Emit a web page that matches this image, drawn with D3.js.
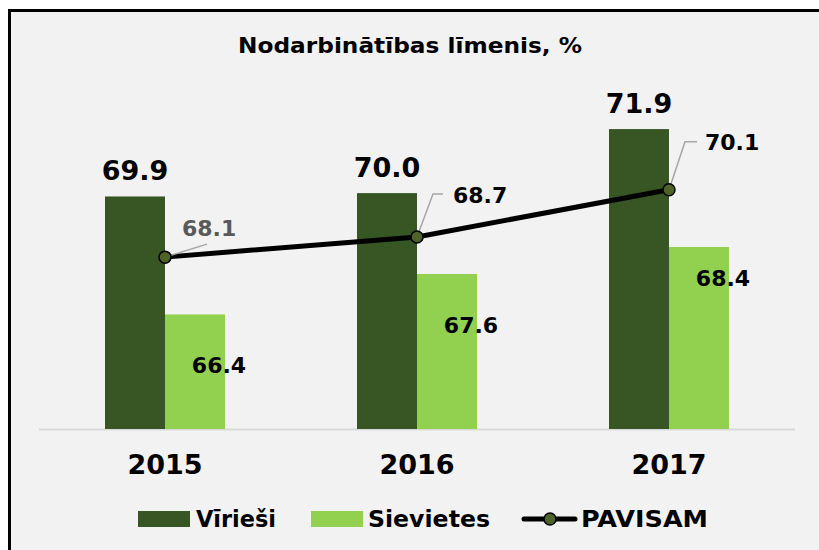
<!DOCTYPE html>
<html>
<head>
<meta charset="utf-8">
<script src="https://cdn.jsdelivr.net/npm/d3@7"></script>
<style>
  body { margin: 0; background: #fff; }
  text { font-family: "DejaVu Sans", Verdana, sans-serif; font-weight: bold; }
</style>
</head>
<body>
<svg width="819" height="550"></svg>
<script>
var years = ['2015', '2016', '2017'];
var men = [69.9, 70.0, 71.9];
var women = [66.4, 67.6, 68.4];
var total = [68.1, 68.7, 70.1];
var seriesNames = ['Vīrieši', 'Sievietes', 'PAVISAM'];
var title = 'Nodarbinātības līmenis, %';

var colors = { men: '#375623', women: '#92d050', marker: '#4f6228' };

// label nudges (manual placement, like the original)
var womenLabelDy = [51, 51, 31];
var totalLabelNudge = [
  { elbow: null, end: [42, -13], text: [17, -29], color: '#595959' },
  { elbow: [16, -43], end: [26, -43], text: [36, -42], color: '#000' },
  { elbow: [16, -48], end: [28, -48], text: [36, -47], color: '#000' }
];

var svg = d3.select('svg');

svg.append('rect')
  .attr('x', 9.5).attr('y', 10.5)
  .attr('width', 830).attr('height', 560)
  .attr('fill', '#f2f2f2')
  .attr('stroke', '#000')
  .attr('stroke-width', 3);

svg.append('text')
  .attr('x', 410).attr('y', 45)
  .attr('dy', '0.35em')
  .attr('text-anchor', 'middle')
  .attr('font-size', 22)
  .attr('textLength', 344)
  .attr('lengthAdjust', 'spacingAndGlyphs')
  .text(title);

var x = d3.scaleBand().domain(years).range([39, 795]);
var inner = d3.scaleBand().domain(['men', 'women']).range([-60, 60]);
var y = d3.scaleLinear().domain([63, 73]).range([429, 92]);

function cx(d, i) { return x(years[i]) + x.bandwidth() / 2; }

// axis line
svg.append('line')
  .attr('x1', 39).attr('x2', 795)
  .attr('y1', 429.5).attr('y2', 429.5)
  .attr('stroke', '#d9d9d9')
  .attr('stroke-width', 2);

svg.selectAll('.bar-men')
  .data(men)
  .enter().append('rect')
  .attr('class', 'bar-men')
  .attr('x', function(d, i) { return cx(d, i) + inner('men'); })
  .attr('width', inner.bandwidth())
  .attr('y', function(d) { return y(d); })
  .attr('height', function(d) { return y(63) - y(d); })
  .attr('fill', colors.men);

svg.selectAll('.bar-women')
  .data(women)
  .enter().append('rect')
  .attr('class', 'bar-women')
  .attr('x', function(d, i) { return cx(d, i) + inner('women'); })
  .attr('width', inner.bandwidth())
  .attr('y', function(d) { return y(d); })
  .attr('height', function(d) { return y(63) - y(d); })
  .attr('fill', colors.women);

// men labels
svg.selectAll('.lab-men')
  .data(men)
  .enter().append('text')
  .attr('class', 'lab-men')
  .attr('x', function(d, i) { return cx(d, i) + inner('men') + inner.bandwidth() / 2; })
  .attr('y', function(d) { return y(d) - 26; })
  .attr('dy', '0.35em')
  .attr('text-anchor', 'middle')
  .attr('font-size', 27)
  .text(function(d) { return d.toFixed(1); });

// women labels
svg.selectAll('.lab-women')
  .data(women)
  .enter().append('text')
  .attr('class', 'lab-women')
  .attr('x', function(d, i) { return cx(d, i) + inner('women') + inner.bandwidth() / 2 + 24; })
  .attr('y', function(d, i) { return y(d) + womenLabelDy[i]; })
  .attr('dy', '0.35em')
  .attr('text-anchor', 'middle')
  .attr('font-size', 22)
  .text(function(d) { return d.toFixed(1); });

// total line
var line = d3.line()
  .x(function(d, i) { return cx(d, i); })
  .y(function(d) { return y(d); });

svg.append('path')
  .datum(total)
  .attr('d', line)
  .attr('fill', 'none')
  .attr('stroke', '#000')
  .attr('stroke-width', 5)
  .attr('stroke-linecap', 'round');

// leader lines
svg.selectAll('.leader')
  .data(total)
  .enter().append('polyline')
  .attr('class', 'leader')
  .attr('points', function(d, i) {
    var px = cx(d, i), py = y(d), n = totalLabelNudge[i];
    var pts = [[px, py]];
    if (n.elbow) pts.push([px + n.elbow[0], py + n.elbow[1]]);
    pts.push([px + n.end[0], py + n.end[1]]);
    return pts.map(function(p) { return p.join(','); }).join(' ');
  })
  .attr('fill', 'none')
  .attr('stroke', '#a6a6a6')
  .attr('stroke-width', 1.5);

svg.selectAll('.marker')
  .data(total)
  .enter().append('circle')
  .attr('class', 'marker')
  .attr('cx', function(d, i) { return cx(d, i); })
  .attr('cy', function(d) { return y(d); })
  .attr('r', 6)
  .attr('fill', colors.marker)
  .attr('stroke', '#000')
  .attr('stroke-width', 1.5);

svg.selectAll('.lab-total')
  .data(total)
  .enter().append('text')
  .attr('class', 'lab-total')
  .attr('x', function(d, i) { return cx(d, i) + totalLabelNudge[i].text[0]; })
  .attr('y', function(d, i) { return y(d) + totalLabelNudge[i].text[1]; })
  .attr('dy', '0.35em')
  .attr('font-size', 22)
  .attr('fill', function(d, i) { return totalLabelNudge[i].color; })
  .text(function(d) { return d.toFixed(1); });

// year labels
svg.selectAll('.year')
  .data(years)
  .enter().append('text')
  .attr('class', 'year')
  .attr('x', function(d) { return x(d) + x.bandwidth() / 2; })
  .attr('y', 465)
  .attr('dy', '0.35em')
  .attr('text-anchor', 'middle')
  .attr('font-size', 27)
  .text(function(d) { return d; });

// legend
var legendY = 519;
var lg = svg.append('g');
lg.append('rect').attr('x', 138).attr('y', legendY - 8).attr('width', 52).attr('height', 16).attr('fill', colors.men);
lg.append('text').attr('x', 196).attr('y', legendY).attr('dy', '0.35em').attr('font-size', 23)
  .attr('textLength', 80).attr('lengthAdjust', 'spacingAndGlyphs').text(seriesNames[0]);
lg.append('rect').attr('x', 311).attr('y', legendY - 8).attr('width', 52).attr('height', 16).attr('fill', colors.women);
lg.append('text').attr('x', 368).attr('y', legendY).attr('dy', '0.35em').attr('font-size', 23)
  .attr('textLength', 122).attr('lengthAdjust', 'spacingAndGlyphs').text(seriesNames[1]);
lg.append('line').attr('x1', 524).attr('x2', 575).attr('y1', legendY).attr('y2', legendY)
  .attr('stroke', '#000').attr('stroke-width', 5).attr('stroke-linecap', 'round');
lg.append('circle').attr('cx', 550).attr('cy', legendY).attr('r', 6)
  .attr('fill', colors.marker).attr('stroke', '#000').attr('stroke-width', 1.5);
lg.append('text').attr('x', 581).attr('y', legendY).attr('dy', '0.35em').attr('font-size', 23)
  .attr('textLength', 127).attr('lengthAdjust', 'spacingAndGlyphs').text(seriesNames[2]);
</script>
</body>
</html>
